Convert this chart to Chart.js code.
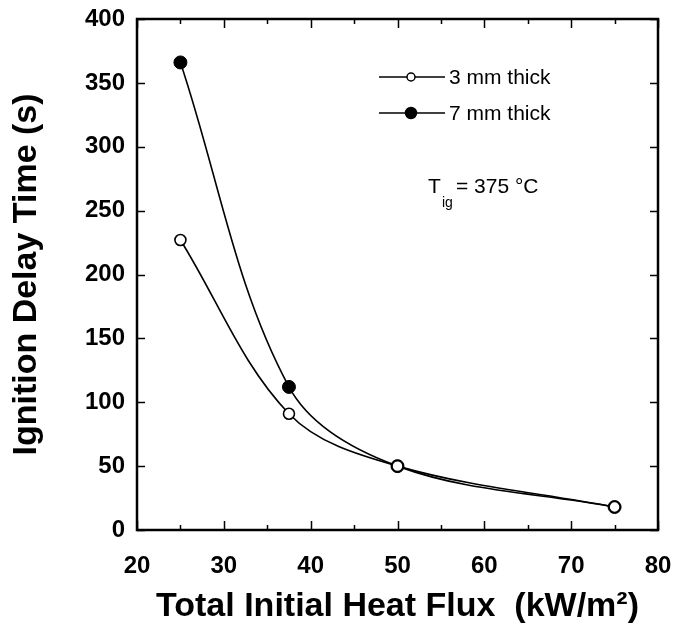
<!DOCTYPE html>
<html>
<head>
<meta charset="utf-8">
<script src="https://cdn.jsdelivr.net/npm/chart.js@4/dist/chart.umd.min.js"></script>
<style>
  html, body { margin: 0; padding: 0; background: #fff; }
  #wrap { width: 677px; height: 634px; }
</style>
</head>
<body>
<div id="wrap"><canvas id="ignitionChart"></canvas></div>
<script>
// values
const heatFlux = [25, 37.5, 50, 75];
const delay3mm = [227, 91, 50, 18];
const delay7mm = [366, 112, 50, 18];
const seriesLabels = ['3 mm thick', '7 mm thick'];
const xTicks = [20, 30, 40, 50, 60, 70, 80];
const yTicks = [0, 50, 100, 150, 200, 250, 300, 350, 400];

const FONT = '"Liberation Sans", Arial, Helvetica, sans-serif';

function toPoints(xs, ys) {
    return xs.map((x, i) => ({ x: x, y: ys[i] }));
}

// no label overhang, the layout padding alone places the plot box
function noOverhang(s) {
    s.paddingLeft = 0;
    s.paddingRight = 0;
    s.paddingTop = 0;
    s.paddingBottom = 0;
}

// frame, inward ticks, legend and the T_ig note
const framePlugin = {
    id: 'frame',
    afterDatasetsDraw(chart) {
        const ctx = chart.ctx;
        const a = chart.chartArea;
        const xs = chart.scales.x;
        const ys = chart.scales.y;
        ctx.save();
        ctx.strokeStyle = '#000';
        ctx.lineWidth = 1.5;
        // x ticks every 5, longer on the tens
        for (let v = 20; v <= 80; v += 5) {
            const px = Math.round(xs.getPixelForValue(v)) + 0.5;
            const len = v % 10 === 0 ? 9 : 5;
            ctx.beginPath();
            ctx.moveTo(px, a.bottom); ctx.lineTo(px, a.bottom - len);
            ctx.moveTo(px, a.top); ctx.lineTo(px, a.top + len);
            ctx.stroke();
        }
        yTicks.forEach(v => {
            const py = Math.round(ys.getPixelForValue(v)) + 0.5;
            ctx.beginPath();
            ctx.moveTo(a.left, py); ctx.lineTo(a.left + 8, py);
            ctx.moveTo(a.right, py); ctx.lineTo(a.right - 8, py);
            ctx.stroke();
        });
        ctx.lineWidth = 2.5;
        ctx.strokeRect(a.left, a.top, a.right - a.left, a.bottom - a.top);

        // legend
        const lx = a.left + 242;
        const rows = [a.top + 58, a.top + 94];
        ctx.font = '21px ' + FONT;
        ctx.textBaseline = 'middle';
        ctx.fillStyle = '#000';
        chart.data.datasets.forEach((ds, i) => {
            const y = rows[i];
            ctx.lineWidth = 1.3;
            ctx.beginPath();
            ctx.moveTo(lx, y); ctx.lineTo(lx + 66, y);
            ctx.stroke();
            ctx.beginPath();
            ctx.arc(lx + 32, y, i === 0 ? 4 : 5.5, 0, Math.PI * 2);
            ctx.fillStyle = i === 0 ? '#fff' : '#000';
            ctx.fill();
            ctx.lineWidth = 1.5;
            ctx.stroke();
            ctx.fillStyle = '#000';
            ctx.fillText(ds.label, lx + 70, y + 1);
        });

        // ignition temperature note
        ctx.textBaseline = 'alphabetic';
        const tx = a.left + 291, ty = a.top + 174;
        ctx.font = '21px ' + FONT;
        ctx.fillText('T', tx, ty);
        ctx.font = '14px ' + FONT;
        ctx.fillText('ig', tx + 14, ty + 14);
        ctx.font = '21px ' + FONT;
        ctx.fillText('= 375 °C', tx + 28, ty);
        ctx.restore();
    }
};

const ctx = document.getElementById('ignitionChart');
new Chart(ctx.getContext('2d'), {
    type: 'line',
    data: {
        datasets: [{
            label: seriesLabels[0],
            data: toPoints(heatFlux, delay3mm),
            borderColor: '#000',
            borderWidth: 1.6,
            pointRadius: 5.5,
            pointBorderWidth: 1.6,
            pointBackgroundColor: '#fff',
            pointBorderColor: '#000',
            tension: 0.35,
            fill: false
        }, {
            label: seriesLabels[1],
            data: toPoints(heatFlux, delay7mm),
            borderColor: '#000',
            borderWidth: 1.6,
            pointRadius: 6.5,
            pointBorderWidth: 1,
            pointBackgroundColor: '#000',
            pointBorderColor: '#000',
            tension: 0.35,
            fill: false
        }]
    },
    options: {
        responsive: true,
        maintainAspectRatio: false,
        animation: false,
        layout: { padding: { left: 0, right: 19, top: 19, bottom: 0 } },
        plugins: {
            legend: { display: false },
            tooltip: { enabled: false }
        },
        scales: {
            x: {
                type: 'linear',
                min: 20,
                max: 80,
                afterBuildTicks: s => { s.ticks = xTicks.map(v => ({ value: v })); },
                afterFit: s => { s.height = 104; noOverhang(s); },
                grid: { display: false, drawTicks: false },
                border: { display: false },
                ticks: {
                    padding: 22,
                    color: '#000',
                    font: { family: FONT, size: 24, weight: 'bold' }
                },
                title: {
                    display: true,
                    text: 'Total Initial Heat Flux  (kW/m²)',
                    color: '#000',
                    padding: { top: 0, bottom: 7 },
                    font: { family: FONT, size: 34, weight: 'bold' }
                }
            },
            y: {
                type: 'linear',
                min: 0,
                max: 400,
                afterBuildTicks: s => { s.ticks = yTicks.map(v => ({ value: v })); },
                afterFit: s => { s.width = 137; noOverhang(s); },
                grid: { display: false, drawTicks: false },
                border: { display: false },
                ticks: {
                    padding: 12,
                    color: '#000',
                    font: { family: FONT, size: 24, weight: 'bold' }
                },
                title: {
                    display: true,
                    text: 'Ignition Delay Time (s)',
                    color: '#000',
                    padding: { top: 6, bottom: 0 },
                    font: { family: FONT, size: 34, weight: 'bold' }
                }
            }
        }
    },
    plugins: [framePlugin]
});
</script>
</body>
</html>
